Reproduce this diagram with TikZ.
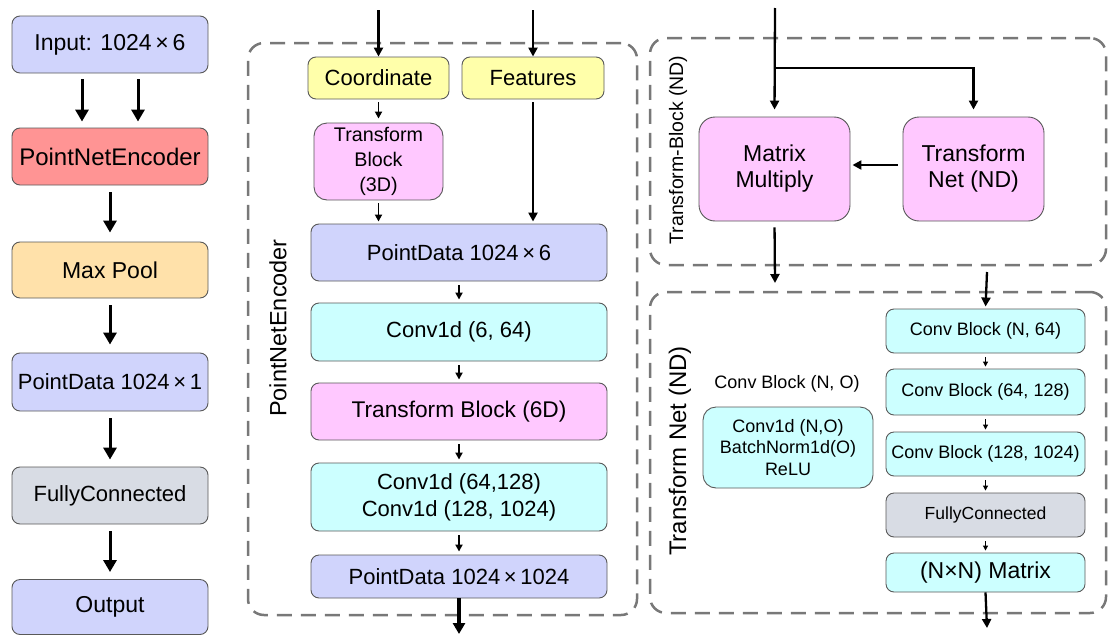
\documentclass[tikz,border=0pt]{standalone}
\usepackage{fontspec}
\setmainfont{Liberation Sans}
\usetikzlibrary{arrows.meta}
\definecolor{lav}{RGB}{208,212,252}
\definecolor{redc}{RGB}{255,148,148}
\definecolor{orc}{RGB}{255,225,170}
\definecolor{grayc}{RGB}{216,220,228}
\definecolor{cyanc}{RGB}{204,255,255}
\definecolor{pinkc}{RGB}{255,200,255}
\definecolor{yelc}{RGB}{255,255,170}
\definecolor{dashc}{RGB}{120,120,120}
\tikzset{
  box/.style={draw=black!65, line width=0.9pt, rounded corners=8pt, align=center, inner sep=0pt},
  fbig/.style={font=\fontsize{22}{27}\selectfont},
  fleft/.style={font=\fontsize{23}{27}\selectfont},
  fsmall/.style={font=\fontsize{18}{21.5}\selectfont},
  group/.style={draw=dashc, line width=2.5pt, dash pattern=on 15pt off 9pt, rounded corners=16pt, inner sep=0pt},
  bigarrow/.style={line width=3pt, -{Triangle[length=12pt,width=13pt]}},
  midarrow/.style={line width=2.3pt, -{Triangle[length=9pt,width=9pt]}},
  smallarrow/.style={line width=1.8pt, -{Triangle[length=7pt,width=7pt]}},
  tinyarrow/.style={line width=1pt, -{Triangle[length=5pt,width=5pt]}},
}
\begin{document}
\begin{tikzpicture}[x=1pt,y=-1pt]
\useasboundingbox (0,0) rectangle (1108,637);
% ---------- left column ----------
\node[box, fill=lav, fleft, minimum width=196pt, minimum height=57pt] (input) at (110,44.5) {Input: 1024\,\texttimes\,6};
\node[box, fill=redc, font=\fontsize{24}{28}\selectfont, minimum width=196pt, minimum height=57pt] (pne) at (110,156.5) {PointNetEncoder};
\node[box, fill=orc, fleft, minimum width=196pt, minimum height=56pt] (maxpool) at (110,270) {Max Pool};
\node[box, fill=lav, fbig, minimum width=196pt, minimum height=58pt] (pd1) at (110,382) {PointData 1024\,\texttimes\,1};
\node[box, fill=grayc, fbig, minimum width=196pt, minimum height=57pt] (fc) at (110,495.5) {FullyConnected};
\node[box, fill=lav, fleft, minimum width=196pt, minimum height=55pt] (out) at (110,607) {Output};
\draw[bigarrow, shorten <=6pt, shorten >=6pt] ([xshift=-28pt]input.south) -- ([xshift=-28pt]pne.north);
\draw[bigarrow, shorten <=6pt, shorten >=6pt] ([xshift=28pt]input.south) -- ([xshift=28pt]pne.north);
\draw[bigarrow, shorten <=7pt, shorten >=9pt] (pne) -- (maxpool);
\draw[bigarrow, shorten <=7pt, shorten >=8pt] (maxpool) -- (pd1);
\draw[bigarrow, shorten <=7pt, shorten >=7pt] (pd1) -- (fc);
\draw[bigarrow, shorten <=7pt, shorten >=7pt] (fc) -- (out);
% ---------- encoder ----------
\node[group, minimum width=389pt, minimum height=572pt] (encbox) at (442.5,329) {};
\node[rotate=90, font=\fontsize{23.5}{27}\selectfont] (enclabel) at (278,328) {PointNetEncoder};
\node[box, fill=yelc, fbig, minimum width=141pt, minimum height=42pt] (coord) at (378.5,78) {Coordinate};
\node[box, fill=yelc, fbig, minimum width=142pt, minimum height=42pt] (feat) at (533,78) {Features};
\node[box, fill=pinkc, font=\fontsize{19.7}{25}\selectfont, rounded corners=13pt, minimum width=129pt, minimum height=77pt] (tb3) at (378.5,161.5) {Transform\\Block\\(3D)};
\node[box, fill=lav, fbig, minimum width=296pt, minimum height=57pt] (pd6) at (459,252.5) {PointData 1024\,\texttimes\,6};
\node[box, fill=cyanc, fbig, minimum width=296pt, minimum height=58pt] (conv1) at (459,332) {Conv1d (6, 64)};
\node[box, fill=pinkc, font=\fontsize{22.7}{27}\selectfont, minimum width=296pt, minimum height=57pt] (tb6) at (459,411.5) {Transform Block (6D)};
\node[box, fill=cyanc, fbig, minimum width=296pt, minimum height=68pt] (conv2) at (459,497) {Conv1d (64,128)\\Conv1d (128, 1024)};
\node[box, fill=lav, fbig, minimum width=296pt, minimum height=43pt] (pd1024) at (459,576.5) {PointData 1024\,\texttimes\,1024};
\coordinate (cin) at (378.5,10);
\coordinate (fin) at (533,10);
\coordinate (encout) at (459,634);
\draw[midarrow] (cin) -- (coord.north);
\draw[midarrow] (fin) -- (feat.north);
\draw[smallarrow, shorten <=3pt, shorten >=4pt] (coord) -- (tb3);
\draw[smallarrow, shorten <=3pt, shorten >=2pt] (tb3) -- (tb3.south |- pd6.north);
\draw[midarrow, shorten <=3pt, shorten >=2pt] (feat.south) -- (feat.south |- pd6.north);
\draw[smallarrow, shorten <=4pt, shorten >=3pt] (pd6) -- (conv1);
\draw[smallarrow, shorten <=4pt, shorten >=3pt] (conv1) -- (tb6);
\draw[smallarrow, shorten <=4pt, shorten >=3pt] (tb6) -- (conv2);
\draw[smallarrow, shorten <=4pt, shorten >=3pt] (conv2) -- (pd1024);
\draw[line width=3.5pt, -{Triangle[length=11pt,width=12pt]}] (pd1024.south) -- (encout);
% ---------- transform block ----------
\node[group, minimum width=456pt, minimum height=227pt] (tbbox) at (878,151.5) {};
\node[rotate=90, font=\fontsize{19.5}{24}\selectfont] (tblabel) at (678,150) {Transform-Block (ND)};
\node[box, fill=pinkc, font=\fontsize{23}{26}\selectfont, rounded corners=16pt, minimum width=151pt, minimum height=104pt] (mm) at (774.5,169) {Matrix\\Multiply};
\node[box, fill=pinkc, font=\fontsize{23}{26}\selectfont, rounded corners=16pt, minimum width=141pt, minimum height=104pt] (tn) at (973.5,169) {Transform\\Net (ND)};
\coordinate (tin) at (775,8);
\coordinate (tbr) at (775,68);
\coordinate (mmout) at (775,283);
\draw[midarrow, shorten >=7pt] (tin) -- (mm.north);
\draw[midarrow, shorten >=7pt] (tbr) -| (tn.north);
\draw[midarrow, shorten <=5pt, shorten >=2pt] ([yshift=4pt]tn.west) -- ([yshift=4pt]mm.east);
\draw[midarrow, shorten <=6pt] (mm.south) -- (mmout);
% ---------- transform net ----------
\node[group, minimum width=456pt, minimum height=321pt] (tnbox) at (878,452.5) {};
\node[rotate=90, font=\fontsize{24}{28}\selectfont] (tnlabel) at (680,451) {Transform Net (ND)};
\node[fsmall] (cblabel) at (787,384) {Conv Block (N, O)};
\node[box, fill=cyanc, fsmall, rounded corners=13pt, minimum width=170pt, minimum height=81pt] (cbdef) at (788,447.5) {Conv1d (N,O)\\BatchNorm1d(O)\\ReLU};
\node[box, fill=cyanc, fsmall, minimum width=199pt, minimum height=44pt] (cb1) at (985.5,331) {Conv Block (N, 64)};
\node[box, fill=cyanc, fsmall, minimum width=199pt, minimum height=46pt] (cb2) at (985.5,392) {Conv Block (64, 128)};
\node[box, fill=cyanc, fsmall, minimum width=199pt, minimum height=44pt] (cb3) at (985.5,454) {Conv Block (128, 1024)};
\node[box, fill=grayc, font=\fontsize{17.5}{21}\selectfont, minimum width=199pt, minimum height=44pt] (fc2) at (985.5,515) {FullyConnected};
\node[box, fill=cyanc, font=\fontsize{23}{27}\selectfont, minimum width=199pt, minimum height=39pt] (mat) at (985.5,572.5) {(N\texttimes N) Matrix};
\coordinate (tnin) at (987,272);
\coordinate (tnout) at (987,628);
\draw[midarrow, shorten >=2pt] (tnin) -- (cb1.north);
\draw[tinyarrow, shorten <=4pt, shorten >=2pt] (cb1) -- (cb2);
\draw[tinyarrow, shorten <=4pt, shorten >=2pt] (cb2) -- (cb3);
\draw[tinyarrow, shorten <=4pt, shorten >=2pt] (cb3) -- (fc2);
\draw[tinyarrow, shorten <=4pt, shorten >=2pt] (fc2) -- (mat);
\draw[midarrow] (mat.south) -- (tnout);
\end{tikzpicture}
\end{document}
